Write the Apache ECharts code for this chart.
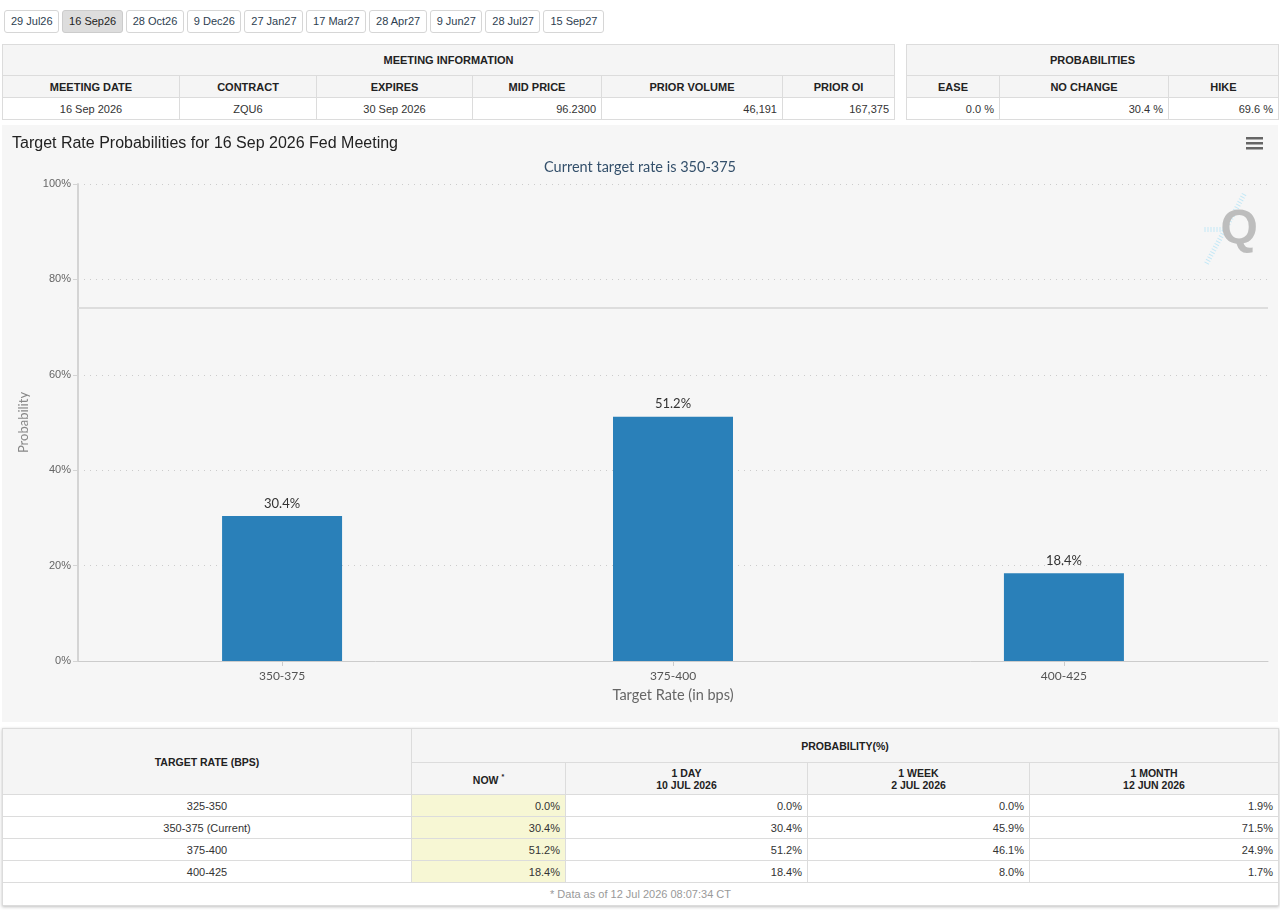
<!DOCTYPE html>
<html>
<head>
<meta charset="utf-8">
<title>FedWatch - 16 Sep 2026</title>
<script src="https://cdn.jsdelivr.net/npm/echarts@6/dist/echarts.min.js"></script>
<style>
  html, body { margin: 0; padding: 0; background: #fff; }
  body { width: 1280px; height: 911px; position: relative; overflow: hidden;
         font-family: "Liberation Sans", Arial, sans-serif; color: #333; }
  #tabs { position: absolute; left: 4px; top: 10px; }
  #tabs span { display: inline-block; height: 21px; line-height: 21px; padding: 0 5.5px 0 6px;
               border: 1px solid #d6d6d6; border-radius: 3px; font-size: 11px; color: #2d3e50;
               margin-right: 3px; background: #fff; }
  #tabs span.on { background: #ddd; border-color: #ccc; color: #222; }
  table { border-collapse: collapse; font-size: 11px; position: absolute; background: #fff; }
  td, th { border: 1px solid #dcdcdc; padding: 0 5px; }
  th { background: #f5f5f5; font-weight: bold; color: #222; text-align: center; }
  td.c { text-align: center; }
  td.r { text-align: right; }
  #meet { left: 2px; top: 44px; width: 893px; }
  #prob { left: 906px; top: 44px; width: 373px; }
  #meet th, #prob th { height: 21px; }
  #meet th.big, #prob th.big { height: 30px; }
  #meet td, #prob td { height: 21px; }
  #chart { position: absolute; left: 2px; top: 125px; width: 1276px; height: 597px; background: #f6f6f6; }
  #hist { left: 2px; top: 728px; width: 1277px; box-shadow: 0 1px 3px rgba(0,0,0,0.25); }
  #hist th { font-size: 10.5px; }
  #hist th.big { height: 33px; }
  #hist th.sub { height: 31px; line-height: 12px; }
  #hist td { height: 21px; }
  #hist td.now { background: #f7f7d4; }
  #hist td.foot { text-align: center; color: #999; height: 22px; }
</style>
</head>
<body>
<div id="tabs"></div>
<table id="meet"></table>
<table id="prob"></table>
<div id="chart"></div>
<table id="hist"></table>

<script>
// meeting tabs
var meetingTabs = ['29 Jul26', '16 Sep26', '28 Oct26', '9 Dec26', '27 Jan27', '17 Mar27', '28 Apr27', '9 Jun27', '28 Jul27', '15 Sep27'];
var activeTab = 1;

// meeting information
var meetHeads = ['MEETING DATE', 'CONTRACT', 'EXPIRES', 'MID PRICE', 'PRIOR VOLUME', 'PRIOR OI'];
var meetVals = ['16 Sep 2026', 'ZQU6', '30 Sep 2026', '96.2300', '46,191', '167,375'];
var meetWidths = [177, 137, 156, 129, 181, 112];
var probHeads = ['EASE', 'NO CHANGE', 'HIKE'];
var probVals = ['0.0 %', '30.4 %', '69.6 %'];
var probWidths = [93, 169, 110];

// chart data
var rateBuckets = ['350-375', '375-400', '400-425'];
var probNow = [30.4, 51.2, 18.4];
var refLine = 74;

// history table
var histRates = ['325-350', '350-375 (Current)', '375-400', '400-425'];
var histNow = [0.0, 30.4, 51.2, 18.4];
var histDay = [0.0, 30.4, 51.2, 18.4];
var histWeek = [0.0, 45.9, 46.1, 8.0];
var histMonth = [1.9, 71.5, 24.9, 1.7];
var histHeads = [['NOW', ''], ['1 DAY', '10 JUL 2026'], ['1 WEEK', '2 JUL 2026'], ['1 MONTH', '12 JUN 2026']];
var histWidths = [409, 154, 242, 222, 249];

document.getElementById('tabs').innerHTML = meetingTabs.map(function (t, i) {
  return '<span' + (i === activeTab ? ' class="on"' : '') + '>' + t + '</span>';
}).join('');

var h = '<tr><th class="big" colspan="6">MEETING INFORMATION</th></tr><tr>';
meetHeads.forEach(function (t, i) { h += '<th style="width:' + (meetWidths[i] - 11) + 'px">' + t + '</th>'; });
h += '</tr><tr>';
meetVals.forEach(function (t, i) { h += '<td class="' + (i < 3 ? 'c' : 'r') + '">' + t + '</td>'; });
document.getElementById('meet').innerHTML = h + '</tr>';

h = '<tr><th class="big" colspan="3">PROBABILITIES</th></tr><tr>';
probHeads.forEach(function (t, i) { h += '<th style="width:' + (probWidths[i] - 11) + 'px">' + t + '</th>'; });
h += '</tr><tr>';
probVals.forEach(function (t) { h += '<td class="r">' + t + '</td>'; });
document.getElementById('prob').innerHTML = h + '</tr>';

h = '<tr><th rowspan="2" style="width:' + (histWidths[0] - 11) + 'px">TARGET RATE (BPS)</th><th class="big" colspan="4">PROBABILITY(%)</th></tr><tr>';
histHeads.forEach(function (p, i) {
  h += '<th class="sub" style="width:' + (histWidths[i + 1] - 11) + 'px">' + p[0] + (i === 0 ? ' <sup style="font-size:7px">*</sup>' : '<br>' + p[1]) + '</th>';
});
h += '</tr>';
histRates.forEach(function (r, i) {
  h += '<tr><td class="c">' + r + '</td><td class="r now">' + histNow[i].toFixed(1) + '%</td><td class="r">' +
    histDay[i].toFixed(1) + '%</td><td class="r">' + histWeek[i].toFixed(1) + '%</td><td class="r">' + histMonth[i].toFixed(1) + '%</td></tr>';
});
h += '<tr><td class="foot" colspan="5">* Data as of 12 Jul 2026 08:07:34 CT</td></tr>';
document.getElementById('hist').innerHTML = h;

var dom = document.getElementById('chart');
var myChart = echarts.init(dom, null, { renderer: 'canvas' });
var labelFont = 'Lato, "Open Sans", sans-serif';

// bars sit on integer positions; a little padding either side like the original
var edgePad = 0.522;
var bucketIdx = rateBuckets.map(function (b, i) { return i; });

var option = {
  backgroundColor: '#f6f6f6',
  animation: false,
  title: [
    {
      text: 'Target Rate Probabilities for 16 Sep 2026 Fed Meeting',
      left: 5, top: 6,
      textStyle: { fontFamily: '"Liberation Sans", Arial', fontSize: 16, fontWeight: 'normal', color: '#222' }
    },
    {
      text: 'Current target rate is 350-375',
      left: 'center', top: 30,
      textStyle: { fontFamily: labelFont, fontSize: 14.5, fontWeight: 'normal', color: '#34506b' }
    }
  ],
  grid: { left: 76, right: 10, top: 59, bottom: 61, containLabel: false },
  xAxis: {
    type: 'value',
    min: -edgePad,
    max: rateBuckets.length - 1 + edgePad,
    name: 'Target Rate (in bps)',
    nameLocation: 'middle',
    nameGap: 27,
    nameTextStyle: { fontFamily: labelFont, fontSize: 14.5, color: '#666' },
    splitLine: { show: false },
    axisLine: { show: true, onZero: false, lineStyle: { color: '#ccc', width: 1 } },
    axisTick: { show: true, length: 5, customValues: bucketIdx, lineStyle: { color: '#ccc' } },
    axisLabel: {
      customValues: bucketIdx,
      formatter: function (v) { return rateBuckets[Math.round(v)]; },
      fontFamily: labelFont, fontSize: 12, color: '#555', margin: 9
    }
  },
  yAxis: {
    type: 'value',
    min: 0, max: 100, interval: 20,
    name: 'Probability',
    nameLocation: 'middle',
    nameGap: 48,
    nameTextStyle: { fontFamily: labelFont, fontSize: 13, color: '#888' },
    axisLine: { show: true, onZero: false, lineStyle: { color: '#d4d4d4', width: 2 } },
    axisLabel: { formatter: '{value}%', fontFamily: '"Liberation Sans", Arial', fontSize: 11, color: '#666', margin: 7 },
    splitLine: { lineStyle: { color: '#ccc', type: [1, 5] } }
  },
  series: [
    {
      type: 'bar',
      data: probNow.map(function (v, i) { return [i, v]; }),
      barWidth: 120,
      itemStyle: { color: '#2a80b9' },
      label: {
        show: true, position: 'top', distance: 6,
        formatter: function (p) { return p.value[1] + '%'; },
        fontFamily: labelFont, fontSize: 13, color: '#333'
      },
      markLine: {
        silent: true,
        symbol: 'none',
        label: { show: false },
        lineStyle: { color: '#ddd', width: 2, type: 'solid' },
        data: [{ yAxis: refLine }]
      }
    }
  ],
  graphic: [
    {
      type: 'group', right: 15, top: 12,
      children: [
        { type: 'rect', shape: { x: 0, y: 0, width: 17, height: 2.5 }, style: { fill: '#666' } },
        { type: 'rect', shape: { x: 0, y: 5, width: 17, height: 2.5 }, style: { fill: '#666' } },
        { type: 'rect', shape: { x: 0, y: 10, width: 17, height: 2.5 }, style: { fill: '#666' } }
      ]
    },
    {
      type: 'group', left: 1200, top: 66,
      children: [
        { type: 'line', shape: { x1: 4, y1: 72, x2: 42, y2: 2 }, style: { stroke: '#c4e8f6', lineWidth: 5, lineDash: [1, 2] } },
        { type: 'line', shape: { x1: 2, y1: 38, x2: 26, y2: 38 }, style: { stroke: '#c4e8f6', lineWidth: 5, lineDash: [1, 2] } },
        { type: 'text', x: 18, y: 14, style: { text: 'Q', font: 'bold 48px "Liberation Sans", Arial', fill: '#bdbdbd' } }
      ]
    }
  ]
};

myChart.setOption(option);
window.addEventListener('resize', myChart.resize);
</script>
</body>
</html>
